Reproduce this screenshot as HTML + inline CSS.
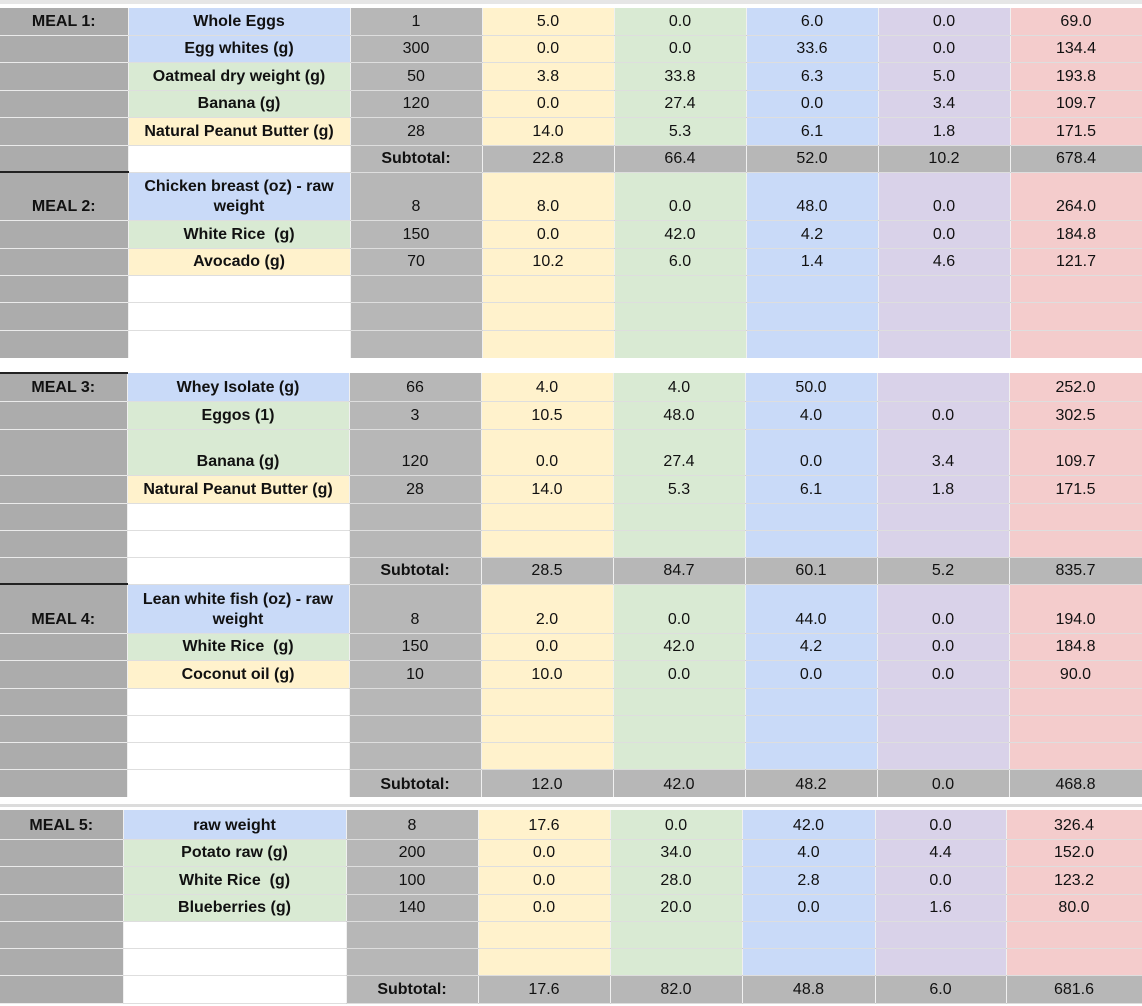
<!DOCTYPE html>
<html><head><meta charset="utf-8"><style>
html,body{margin:0;padding:0;width:1142px;height:1006px;overflow:hidden;background:#fff;font-family:"Liberation Sans",Arial,sans-serif;}
table{position:absolute;left:0;border-collapse:collapse;table-layout:fixed;}
td{padding:0 2px 3px;text-align:center;vertical-align:bottom;font-size:16px;color:#111;border-bottom:1px solid rgba(0,0,0,0.13);border-right:1px solid rgba(0,0,0,0.06);line-height:20px;overflow:hidden;white-space:nowrap;}
td.m{background:#acacac;font-weight:bold;border-bottom-color:rgba(0,0,0,0.08);}
td.n{font-weight:bold;white-space:normal;}
.b{background:#c9daf8}.g{background:#d9ead3}.y{background:#fff2cc}.w{background:#fff}.p{background:#d9d2e9}.r{background:#f4cccc}.q{background:#b7b7b7}
tr.s td{background:#b7b7b7}
tr.s td.m{background:#acacac}
tr.s td.n{background:#fff}
td.tk{border-top:2px solid #222;}
</style></head><body>
<div style="position:absolute;left:0;top:0;width:1142px;height:4px;background:#e6e6e6"></div>

<table style="top:8px;width:1142px">
<colgroup><col style="width:128px"><col style="width:222px"><col style="width:132px"><col style="width:132px"><col style="width:132px"><col style="width:132px"><col style="width:132px"><col style="width:132px"></colgroup>
<tr style="height:27px"><td class="m">MEAL 1:</td><td class="n b">Whole Eggs</td><td class="q">1</td><td class="y">5.0</td><td class="g">0.0</td><td class="b">6.0</td><td class="p">0.0</td><td class="r">69.0</td></tr>
<tr style="height:27px"><td class="m"></td><td class="n b">Egg whites (g)</td><td class="q">300</td><td class="y">0.0</td><td class="g">0.0</td><td class="b">33.6</td><td class="p">0.0</td><td class="r">134.4</td></tr>
<tr style="height:28px"><td class="m"></td><td class="n g">Oatmeal dry weight (g)</td><td class="q">50</td><td class="y">3.8</td><td class="g">33.8</td><td class="b">6.3</td><td class="p">5.0</td><td class="r">193.8</td></tr>
<tr style="height:27px"><td class="m"></td><td class="n g">Banana (g)</td><td class="q">120</td><td class="y">0.0</td><td class="g">27.4</td><td class="b">0.0</td><td class="p">3.4</td><td class="r">109.7</td></tr>
<tr style="height:28px"><td class="m"></td><td class="n y">Natural Peanut Butter (g)</td><td class="q">28</td><td class="y">14.0</td><td class="g">5.3</td><td class="b">6.1</td><td class="p">1.8</td><td class="r">171.5</td></tr>
<tr class="s" style="height:27px"><td class="m"></td><td class="n"></td><td style="font-weight:bold">Subtotal:</td><td>22.8</td><td>66.4</td><td>52.0</td><td>10.2</td><td>678.4</td></tr>
<tr style="height:48px"><td class="m tk">MEAL 2:</td><td class="n b">Chicken breast (oz) - raw weight</td><td class="q">8</td><td class="y">8.0</td><td class="g">0.0</td><td class="b">48.0</td><td class="p">0.0</td><td class="r">264.0</td></tr>
<tr style="height:28px"><td class="m"></td><td class="n g">White Rice&nbsp; (g)</td><td class="q">150</td><td class="y">0.0</td><td class="g">42.0</td><td class="b">4.2</td><td class="p">0.0</td><td class="r">184.8</td></tr>
<tr style="height:27px"><td class="m"></td><td class="n y">Avocado (g)</td><td class="q">70</td><td class="y">10.2</td><td class="g">6.0</td><td class="b">1.4</td><td class="p">4.6</td><td class="r">121.7</td></tr>
<tr style="height:27px"><td class="m"></td><td class="n w"></td><td class="q"></td><td class="y"></td><td class="g"></td><td class="b"></td><td class="p"></td><td class="r"></td></tr>
<tr style="height:28px"><td class="m"></td><td class="n w"></td><td class="q"></td><td class="y"></td><td class="g"></td><td class="b"></td><td class="p"></td><td class="r"></td></tr>
<tr style="height:28px"><td class="m"></td><td class="n w"></td><td class="q"></td><td class="y"></td><td class="g"></td><td class="b"></td><td class="p"></td><td class="r"></td></tr>
</table>

<div style="position:absolute;left:0;top:358px;width:1142px;height:14px;background:#fff"></div>

<table style="top:372px;width:1142px">
<colgroup><col style="width:127px"><col style="width:222px"><col style="width:132px"><col style="width:132px"><col style="width:132px"><col style="width:132px"><col style="width:132px"><col style="width:133px"></colgroup>
<tr style="height:28px"><td class="m tk">MEAL 3:</td><td class="n b">Whey Isolate (g)</td><td class="q">66</td><td class="y">4.0</td><td class="g">4.0</td><td class="b">50.0</td><td class="p"></td><td class="r">252.0</td></tr>
<tr style="height:28px"><td class="m"></td><td class="n g">Eggos (1)</td><td class="q">3</td><td class="y">10.5</td><td class="g">48.0</td><td class="b">4.0</td><td class="p">0.0</td><td class="r">302.5</td></tr>
<tr style="height:46px"><td class="m"></td><td class="n g">Banana (g)</td><td class="q">120</td><td class="y">0.0</td><td class="g">27.4</td><td class="b">0.0</td><td class="p">3.4</td><td class="r">109.7</td></tr>
<tr style="height:28px"><td class="m"></td><td class="n y">Natural Peanut Butter (g)</td><td class="q">28</td><td class="y">14.0</td><td class="g">5.3</td><td class="b">6.1</td><td class="p">1.8</td><td class="r">171.5</td></tr>
<tr style="height:27px"><td class="m"></td><td class="n w"></td><td class="q"></td><td class="y"></td><td class="g"></td><td class="b"></td><td class="p"></td><td class="r"></td></tr>
<tr style="height:27px"><td class="m"></td><td class="n w"></td><td class="q"></td><td class="y"></td><td class="g"></td><td class="b"></td><td class="p"></td><td class="r"></td></tr>
<tr class="s" style="height:27px"><td class="m"></td><td class="n"></td><td style="font-weight:bold">Subtotal:</td><td>28.5</td><td>84.7</td><td>60.1</td><td>5.2</td><td>835.7</td></tr>
<tr style="height:49px"><td class="m tk">MEAL 4:</td><td class="n b">Lean white fish (oz) - raw weight</td><td class="q">8</td><td class="y">2.0</td><td class="g">0.0</td><td class="b">44.0</td><td class="p">0.0</td><td class="r">194.0</td></tr>
<tr style="height:27px"><td class="m"></td><td class="n g">White Rice&nbsp; (g)</td><td class="q">150</td><td class="y">0.0</td><td class="g">42.0</td><td class="b">4.2</td><td class="p">0.0</td><td class="r">184.8</td></tr>
<tr style="height:28px"><td class="m"></td><td class="n y">Coconut oil (g)</td><td class="q">10</td><td class="y">10.0</td><td class="g">0.0</td><td class="b">0.0</td><td class="p">0.0</td><td class="r">90.0</td></tr>
<tr style="height:27px"><td class="m"></td><td class="n w"></td><td class="q"></td><td class="y"></td><td class="g"></td><td class="b"></td><td class="p"></td><td class="r"></td></tr>
<tr style="height:27px"><td class="m"></td><td class="n w"></td><td class="q"></td><td class="y"></td><td class="g"></td><td class="b"></td><td class="p"></td><td class="r"></td></tr>
<tr style="height:27px"><td class="m"></td><td class="n w"></td><td class="q"></td><td class="y"></td><td class="g"></td><td class="b"></td><td class="p"></td><td class="r"></td></tr>
<tr class="s" style="height:29px"><td class="m"></td><td class="n"></td><td style="font-weight:bold">Subtotal:</td><td>12.0</td><td>42.0</td><td>48.2</td><td>0.0</td><td>468.8</td></tr>
</table>

<div style="position:absolute;left:0;top:797px;width:1142px;height:13px;background:#fff"></div>
<div style="position:absolute;left:0;top:804px;width:1142px;height:3px;background:#dcdcdc"></div>

<table style="top:810px;width:1142px">
<colgroup><col style="width:123px"><col style="width:223px"><col style="width:132px"><col style="width:132px"><col style="width:132px"><col style="width:133px"><col style="width:131px"><col style="width:136px"></colgroup>
<tr style="height:29px"><td class="m">MEAL 5:</td><td class="n b">raw weight</td><td class="q">8</td><td class="y">17.6</td><td class="g">0.0</td><td class="b">42.0</td><td class="p">0.0</td><td class="r">326.4</td></tr>
<tr style="height:27px"><td class="m"></td><td class="n g">Potato raw (g)</td><td class="q">200</td><td class="y">0.0</td><td class="g">34.0</td><td class="b">4.0</td><td class="p">4.4</td><td class="r">152.0</td></tr>
<tr style="height:28px"><td class="m"></td><td class="n g">White Rice&nbsp; (g)</td><td class="q">100</td><td class="y">0.0</td><td class="g">28.0</td><td class="b">2.8</td><td class="p">0.0</td><td class="r">123.2</td></tr>
<tr style="height:27px"><td class="m"></td><td class="n g">Blueberries (g)</td><td class="q">140</td><td class="y">0.0</td><td class="g">20.0</td><td class="b">0.0</td><td class="p">1.6</td><td class="r">80.0</td></tr>
<tr style="height:27px"><td class="m"></td><td class="n w"></td><td class="q"></td><td class="y"></td><td class="g"></td><td class="b"></td><td class="p"></td><td class="r"></td></tr>
<tr style="height:27px"><td class="m"></td><td class="n w"></td><td class="q"></td><td class="y"></td><td class="g"></td><td class="b"></td><td class="p"></td><td class="r"></td></tr>
<tr class="s" style="height:28px"><td class="m"></td><td class="n"></td><td style="font-weight:bold">Subtotal:</td><td>17.6</td><td>82.0</td><td>48.8</td><td>6.0</td><td>681.6</td></tr>
</table>
</body></html>
